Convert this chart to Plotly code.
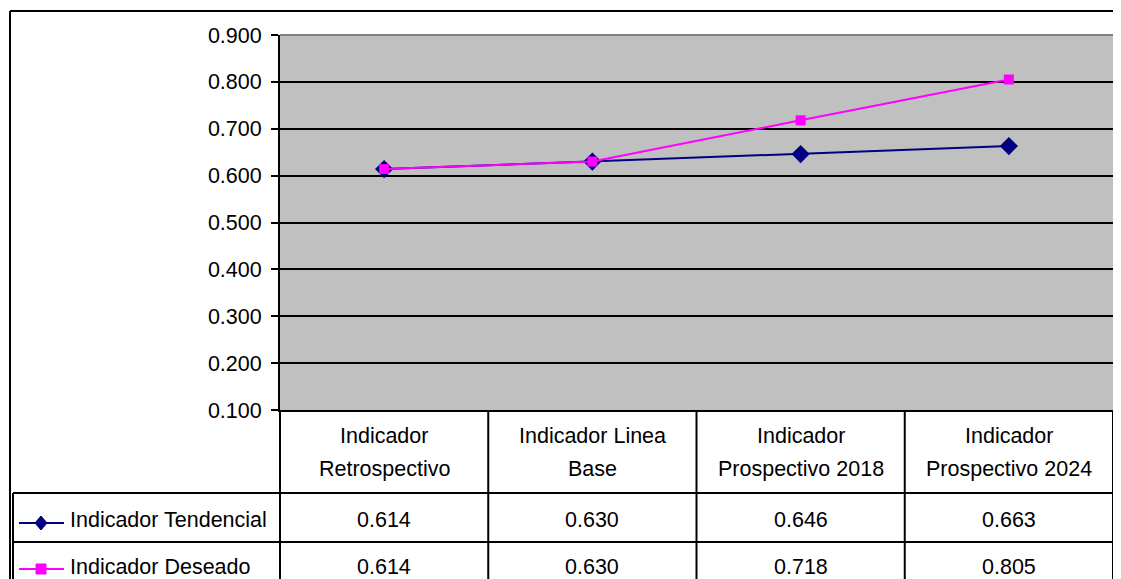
import plotly.graph_objects as go

# ---- data ----
categories = [["Indicador", "Retrospectivo"], ["Indicador Linea", "Base"],
              ["Indicador", "Prospectivo 2018"], ["Indicador", "Prospectivo 2024"]]
series_names = ["Indicador Tendencial", "Indicador Deseado"]
tendencial = [0.614, 0.630, 0.646, 0.663]
deseado = [0.614, 0.630, 0.718, 0.805]
y_ticks = [0.1, 0.2, 0.3, 0.4, 0.5, 0.6, 0.7, 0.8, 0.9]

# ---- layout geometry (page pixels; browser body has an 8px margin) ----
OFF = 8
PAGE_W, PAGE_H = 1121, 579
PL, PT, PR_EDGE, PB_EDGE = 280, 35, 1113, 410   # plot area in page pixels
PW, PH = PR_EDGE - PL, PB_EDGE - PT
W, H = PAGE_W - OFF, PAGE_H - OFF
L, T = PL - OFF, PT - OFF
R = W - L - PW
B = H - T - PH
FONT = "Liberation Sans, Arial, sans-serif"
FS = 21.5
NAVY = "#000080"
MAG = "#FF00FF"


def px(x):
    return (x - PL) / PW


def py(y):
    return (PB_EDGE - y) / PH


x_idx = list(range(len(categories)))

fig = go.Figure()
fig.add_trace(go.Scatter(x=x_idx, y=tendencial, mode="lines+markers", name=series_names[0],
                         line=dict(color=NAVY, width=2),
                         marker=dict(symbol="diamond", size=14, color=NAVY),
                         cliponaxis=False))
fig.add_trace(go.Scatter(x=x_idx, y=deseado, mode="lines+markers", name=series_names[1],
                         line=dict(color=MAG, width=2),
                         marker=dict(symbol="square", size=10, color=MAG),
                         cliponaxis=False))

shapes = []
annots = []
blk = dict(color="black", width=2)

# outer chart border (top and left)
shapes.append(dict(type="line", xref="paper", yref="paper", x0=px(10), x1=px(PAGE_W + 5), y0=py(11), y1=py(11), line=blk))
shapes.append(dict(type="line", xref="paper", yref="paper", x0=px(10), x1=px(10), y0=py(11), y1=py(PAGE_H + 5), line=blk))

# plot area gray border (top, right)
gray = dict(color="#808080", width=2)
shapes.append(dict(type="line", xref="paper", yref="paper", x0=0, x1=1, y0=1, y1=1, line=gray))
shapes.append(dict(type="line", xref="paper", yref="paper", x0=px(PR_EDGE + 2), x1=px(PR_EDGE + 2), y0=1,
                   y1=py(PAGE_H + 5), line=gray))

# table lines
row_top = 493
row_mid = 542
shapes.append(dict(type="line", xref="paper", yref="paper", x0=px(13), x1=1, y0=py(row_top), y1=py(row_top), line=blk))
shapes.append(dict(type="line", xref="paper", yref="paper", x0=px(13), x1=1, y0=py(row_mid), y1=py(row_mid), line=blk))
shapes.append(dict(type="line", xref="paper", yref="paper", x0=px(13), x1=px(13), y0=py(row_top), y1=py(PAGE_H + 5), line=blk))
shapes.append(dict(type="line", xref="paper", yref="paper", x0=0, x1=0, y0=0, y1=py(PAGE_H + 5), line=blk))
shapes.append(dict(type="line", xref="paper", yref="paper", x0=1, x1=1, y0=0, y1=py(PAGE_H + 5), line=blk))
for i in x_idx[:-1]:
    shapes.append(dict(type="line", xref="x", yref="paper", x0=i + 0.5, x1=i + 0.5, y0=0, y1=py(PAGE_H + 5), line=blk))

# header labels (two lines each)
header_line_y = [436, 469]
for i, c in enumerate(categories):
    for k, part in enumerate(c):
        annots.append(dict(x=i, xref="x", y=py(header_line_y[k]), yref="paper", text=part, showarrow=False,
                           xanchor="center", yanchor="middle", font=dict(family=FONT, size=FS, color="black")))

# values
row_centers = [520, 567]
for r, vals in enumerate([tendencial, deseado]):
    for i, v in enumerate(vals):
        annots.append(dict(x=i, xref="x", y=py(row_centers[r]), yref="paper", text=f"{v:.3f}",
                           showarrow=False, xanchor="center", yanchor="middle",
                           font=dict(family=FONT, size=FS, color="black")))

# legend keys in table
leg_y = [523, 569]
colors = [NAVY, MAG]
paths = ["M-6,0 L0,7 L6,0 L0,-7 Z", "M-5,-5 L5,-5 L5,5 L-5,5 Z"]
for r in range(2):
    shapes.append(dict(type="line", xref="paper", yref="paper", x0=px(19), x1=px(64),
                       y0=py(leg_y[r]), y1=py(leg_y[r]), line=dict(color=colors[r], width=2)))
    shapes.append(dict(type="path", xref="paper", yref="paper", xsizemode="pixel", ysizemode="pixel",
                       xanchor=px(41), yanchor=py(leg_y[r]), path=paths[r],
                       fillcolor=colors[r], line=dict(color=colors[r], width=1)))
    annots.append(dict(x=px(68), xref="paper", y=py(row_centers[r]), yref="paper", text=series_names[r],
                       showarrow=False, xanchor="left", yanchor="middle",
                       font=dict(family=FONT, size=FS, color="black")))

fig.update_layout(
    width=W, height=H, autosize=False,
    margin=dict(l=L, r=R, t=T, b=B, pad=0),
    paper_bgcolor="white", plot_bgcolor="#C0C0C0",
    showlegend=False,
    shapes=shapes, annotations=annots,
    font=dict(family=FONT, size=FS, color="black"),
    xaxis=dict(range=[-0.5, 3.5], showgrid=False, zeroline=False, showticklabels=False,
               ticks="", showline=True, linecolor="black", linewidth=2, fixedrange=True),
    yaxis=dict(range=[0.1, 0.9], tickvals=y_ticks, tickformat=".3f", showgrid=True,
               gridcolor="black", gridwidth=2, zeroline=False, showline=True, linecolor="black",
               linewidth=2, ticks="outside", ticklen=7, tickwidth=2, tickcolor="black",
               ticklabelstandoff=5, tickfont=dict(family=FONT, size=FS, color="black"),
               fixedrange=True),
)

fig.write_html("out.html",
               post_script="document.documentElement.style.overflow='hidden';"
                           "document.body.style.overflow='hidden';")
